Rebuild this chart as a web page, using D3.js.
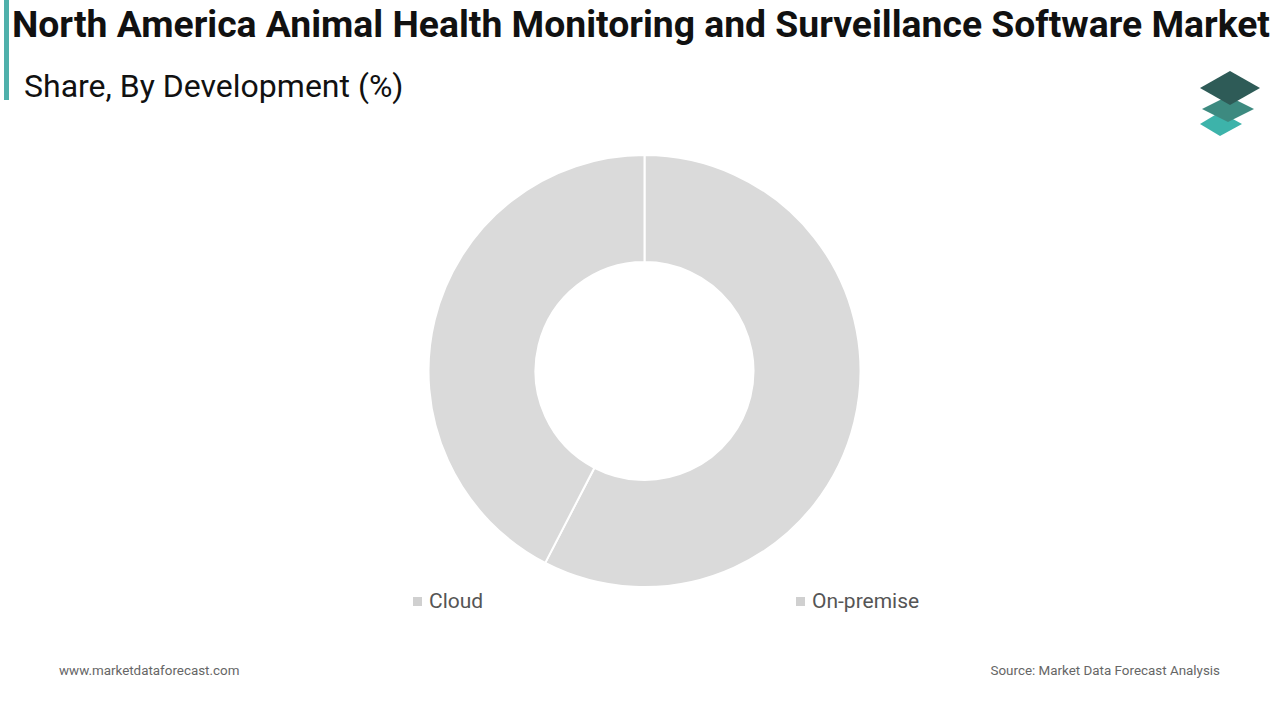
<!DOCTYPE html>
<html>
<head>
<meta charset="utf-8">
<script src="https://cdn.jsdelivr.net/npm/d3@7"></script>
<style>
  body { margin: 0; background: #fff; }
  svg { display: block; font-family: Roboto, "Noto Sans", sans-serif; }
</style>
</head>
<body>
<svg id="chart" width="1280" height="720"></svg>
<script>
// chart data
const categories = ["Cloud", "On-premise"];
const shares = [57.6, 42.4];
const sliceColors = ["#dadada", "#dadada"];
const legendColors = ["#d0d0d0", "#d0d0d0"];

const svg = d3.select("#chart");

// header
svg.append("rect").attr("x", 4).attr("y", 0).attr("width", 5).attr("height", 100).style("fill", "#4fb0ab");
svg.append("text").attr("x", 12).attr("y", 37)
	.style("font-size", "37.3px").style("font-weight", "bold").style("fill", "#111")
	.text("North America Animal Health Monitoring and Surveillance Software Market");
svg.append("text").attr("x", 24).attr("y", 97)
	.style("font-size", "32px").style("fill", "#111")
	.text("Share, By Development (%)");

// logo
let logo = svg.append("g").attr("transform", "translate(1230,104)");
logo.append("path").attr("d", "M-10,8 L12,20 L-10,32 L-30,20 Z").style("fill", "#3db3aa");
logo.append("path").attr("d", "M-2,-8 L24,5 L-2,18 L-28,5 Z").style("fill", "#3d8a80");
logo.append("path").attr("d", "M0,-33 L30,-16 L0,1 L-30,-16 Z").style("fill", "#2e5b57");

// donut
const cx = 644.5, cy = 371;
const pie = d3.pie().sort(null).value(d => d.v);
const arc = d3.arc().innerRadius(109).outerRadius(216);
const pieData = pie(categories.map((c, i) => ({ c: c, v: shares[i] })));

svg.append("g").attr("transform", `translate(${cx},${cy})`)
	.selectAll("path")
	.data(pieData)
	.enter().append("path")
	.attr("d", arc)
	.style("fill", (d, i) => sliceColors[i])
	.style("stroke", "#fff")
	.style("stroke-width", 2);

// legend
const legendX = d3.scalePoint().domain(categories).range([413, 796]);
let legend = svg.selectAll(".legend")
	.data(categories)
	.enter().append("g")
	.attr("transform", d => `translate(${legendX(d)},601)`);
legend.append("rect").attr("x", 0).attr("y", -4).attr("width", 9).attr("height", 9)
	.style("fill", (d, i) => legendColors[i]);
legend.append("text").attr("x", 16).attr("y", 7)
	.style("font-size", "21px").style("fill", "#555")
	.text(d => d);

// footer
svg.append("text").attr("x", 59).attr("y", 675)
	.style("font-size", "13.4px").style("fill", "#666")
	.text("www.marketdataforecast.com");
svg.append("text").attr("x", 1220).attr("y", 675).attr("text-anchor", "end")
	.style("font-size", "13.4px").style("fill", "#666")
	.text("Source: Market Data Forecast Analysis");
</script>
</body>
</html>
